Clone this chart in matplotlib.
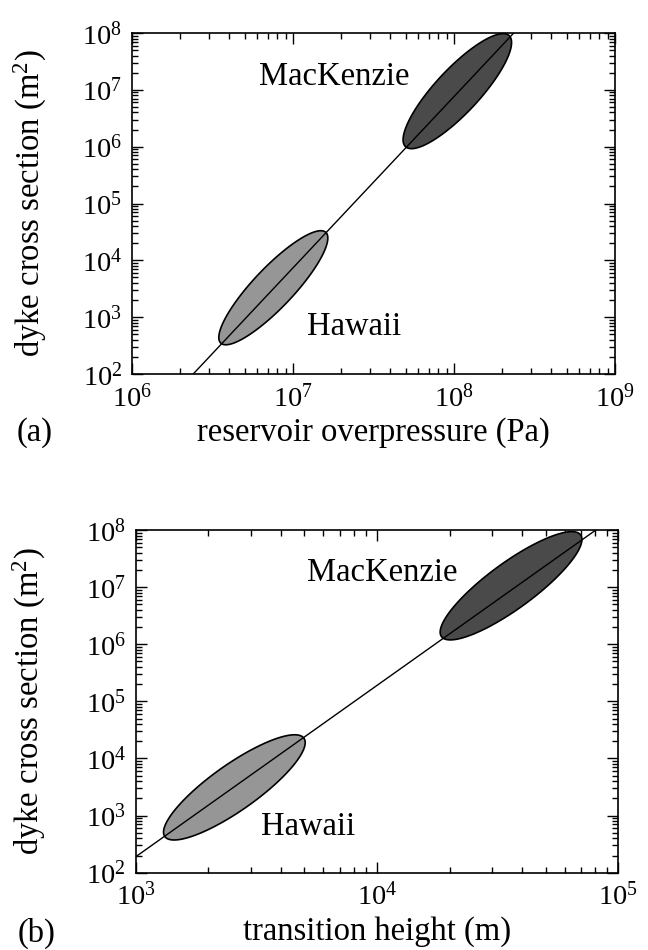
import numpy as np
import matplotlib
matplotlib.use("Agg")
import matplotlib.pyplot as plt
from matplotlib.ticker import LogLocator, NullFormatter

plt.rcParams['font.family'] = ['Liberation Serif', 'DejaVu Serif']
plt.rcParams['mathtext.fontset'] = 'custom'
plt.rcParams['mathtext.rm'] = 'Liberation Serif'
plt.rcParams['mathtext.it'] = 'Liberation Serif:italic'

# (a) overpressure vs dyke cross section
pa_line_x = [2.4e6, 2.35e8]
pa_line_y = [1e2, 1e8]
pa_hawaii_x = [3.56e6, 1.6e7]
pa_hawaii_y = [3.5e2, 3.1e4]
pa_mack_x = [5.0e7, 2.2e8]
pa_mack_y = [1.0e6, 9.0e7]

# (b) transition height vs dyke cross section
hb_line_x = [1e3, 8.07e4]
hb_line_y = [1.9e2, 1e8]
hb_hawaii_x = [1.32e3, 4.98e3]
hb_hawaii_y = [4.3e2, 2.26e4]
hb_mack_x = [1.85e4, 6.98e4]
hb_mack_y = [1.36e6, 8.2e7]

hawaii_col = '#969696'
mack_col = '#4a4a4a'
fs = 23.5
tfs = 20.5


def ellipse(ax, xs, ys, minor_px, color):
    # ellipse built in pixel space between the two tips, then mapped back to data
    p0 = ax.transData.transform((xs[0], ys[0]))
    p1 = ax.transData.transform((xs[1], ys[1]))
    c = (p0 + p1) / 2
    d = p1 - p0
    a = np.hypot(*d) / 2
    u = d / np.hypot(*d)
    v = np.array([-u[1], u[0]])
    t = np.linspace(0, 2 * np.pi, 200)
    pts = c + np.outer(np.cos(t) * a, u) + np.outer(np.sin(t) * minor_px / 2, v)
    dat = ax.transData.inverted().transform(pts)
    ax.fill(dat[:, 0], dat[:, 1], facecolor=color, edgecolor='black', lw=1.2, zorder=2)


def style(ax, xlim):
    ax.set_xscale('log')
    ax.set_yscale('log')
    ax.set_xlim(*xlim)
    ax.set_ylim(1e2, 1e8)
    for axis in (ax.xaxis, ax.yaxis):
        axis.set_major_locator(LogLocator(base=10, numticks=50))
        axis.set_minor_locator(LogLocator(base=10, subs=np.arange(2, 10), numticks=200))
        axis.set_minor_formatter(NullFormatter())
    ax.tick_params(which='both', direction='in', top=True, right=True,
                   labelsize=tfs, width=1.0)
    ax.tick_params(which='major', length=8, pad=7)
    ax.tick_params(which='minor', length=4)
    for s in ax.spines.values():
        s.set_linewidth(1.2)


fig = plt.figure(figsize=(6.48, 9.5), dpi=100)

ax1 = fig.add_axes([132 / 648, 1 - 374 / 950, 483 / 648, 341 / 950])
style(ax1, (1e6, 1e9))
ellipse(ax1, pa_hawaii_x, pa_hawaii_y, 40, hawaii_col)
ellipse(ax1, pa_mack_x, pa_mack_y, 44, mack_col)
ax1.plot(pa_line_x, pa_line_y, color='black', lw=1.0, zorder=3)
ax1.text(1.8e7, 10**7.23, 'MacKenzie', fontsize=fs, ha='center', va='center')
ax1.text(2.4e7, 10**2.83, 'Hawaii', fontsize=fs, ha='center', va='center')
ax1.set_xlabel('reservoir overpressure (Pa)', fontsize=fs, va='center')
ax1.xaxis.set_label_coords(0.5, -0.173)
ax1.set_ylabel('dyke cross section (m$^2$)', fontsize=fs, va='center')
ax1.yaxis.set_label_coords(-0.211, 0.5)
fig.text(35 / 648, 1 - 433 / 950, '(a)', fontsize=fs, ha='center', va='center')

ax2 = fig.add_axes([135.7 / 648, 1 - 872.7 / 950, 482.6 / 648, 342.7 / 950])
style(ax2, (1e3, 1e5))
ellipse(ax2, hb_hawaii_x, hb_hawaii_y, 46, hawaii_col)
ellipse(ax2, hb_mack_x, hb_mack_y, 46, mack_col)
ax2.plot(hb_line_x, hb_line_y, color='black', lw=1.0, zorder=3)
ax2.text(1.05e4, 1.75e7, 'MacKenzie', fontsize=fs, ha='center', va='center')
ax2.text(5.2e3, 6.4e2, 'Hawaii', fontsize=fs, ha='center', va='center')
ax2.set_xlabel('transition height (m)', fontsize=fs, va='center')
ax2.xaxis.set_label_coords(0.5, -(932 - 872.7) / 342.7)
ax2.set_ylabel('dyke cross section (m$^2$)', fontsize=fs, va='center')
ax2.yaxis.set_label_coords(-(136 - 30) / 482.6, 0.5)
fig.text(37 / 648, 1 - 933 / 950, '(b)', fontsize=fs, ha='center', va='center')

fig.savefig('out.png', dpi=100)
